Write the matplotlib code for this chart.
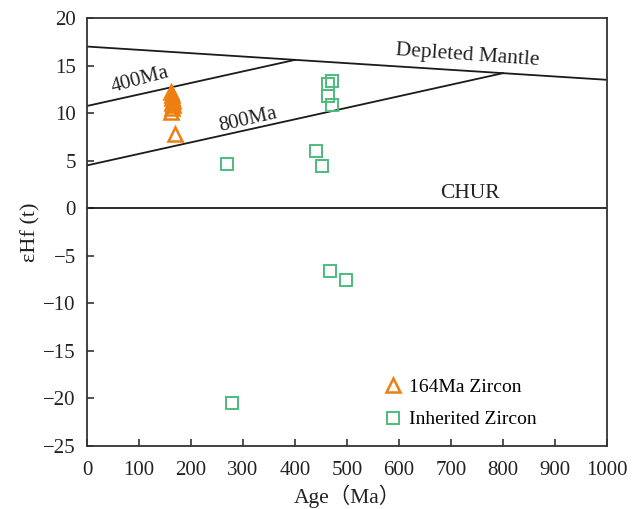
import numpy as np
import matplotlib.pyplot as plt

plt.rcParams['font.family'] = ['Liberation Serif', 'Noto Sans CJK SC']

# 164 Ma zircon (triangles)
age_164 = [162, 163, 164, 165, 163, 166, 164, 162, 169]
ehf_164 = [12.2, 11.9, 11.6, 11.3, 11.1, 10.8, 10.5, 10.1, 7.8]

# inherited zircon (squares)
age_inh = [269, 279, 441, 452, 463, 463, 471, 471, 468, 498]
ehf_inh = [4.6, -20.5, 6.0, 4.4, 13.05, 11.8, 13.4, 10.85, -6.6, -7.55]

# reference lines
dm_x = [0, 1000]
dm_y = [17.0, 13.5]
l400_x = [0, 400]
l400_y = [10.75, 15.6]
l800_x = [0, 800]
l800_y = [4.5, 14.2]

fig = plt.figure(figsize=(6.33, 5.09), dpi=100)
ax = fig.add_axes([0.1375, 0.124, 0.8215, 0.8406])

ax.plot(dm_x, dm_y, color='#1a1a1a', lw=1.3)
ax.plot(l400_x, l400_y, color='#1a1a1a', lw=1.3)
ax.plot(l800_x, l800_y, color='#1a1a1a', lw=1.3)
ax.axhline(0, color='#1a1a1a', lw=1.3)

ax.plot(age_164, ehf_164, linestyle='none', marker='^', ms=9.5,
        mfc='none', mec='#ec7f10', mew=1.8, label='164Ma Zircon')
ax.plot(age_inh, ehf_inh, linestyle='none', marker='s', ms=9,
        mfc='none', mec='#4cbb7c', mew=1.4, label='Inherited Zircon')

ax.text(732, 16.1, 'Depleted Mantle', fontsize=15.5, rotation=-4,
        ha='center', va='center', color='#222222')
ax.text(102, 13.5, '400Ma', fontsize=15, rotation=15,
        ha='center', va='center', color='#222222')
ax.text(310, 9.3, '800Ma', fontsize=15, rotation=13,
        ha='center', va='center', color='#222222')
ax.text(737, 1.5, 'CHUR', fontsize=15.5, ha='center', va='center',
        color='#222222')

ax.set_xlim(0, 1000)
ax.set_ylim(-25, 20)
ax.set_xticks(np.arange(0, 1001, 100))
ax.set_yticks(np.arange(-25, 21, 5))
ax.set_yticklabels([str(v).replace('-', '\u2212') for v in range(-25, 21, 5)])
ax.tick_params(direction='in', length=5, width=1.1, labelsize=15,
               colors='#222222', pad=8)
ax.tick_params(axis='x', pad=11)
for s in ax.spines.values():
    s.set_linewidth(1.3)
    s.set_color('#333333')

ax.set_xlabel('Age（Ma）', fontsize=15.5, color='#222222', labelpad=3)
ax.set_ylabel('εHf (t)', fontsize=16, color='#222222', labelpad=2)

ax.legend(loc='lower left', bbox_to_anchor=(0.536, 0.0), frameon=False,
          fontsize=14, handletextpad=0.3, labelspacing=0.75,
          handlelength=1.0)

fig.savefig('out.png', dpi=100)
